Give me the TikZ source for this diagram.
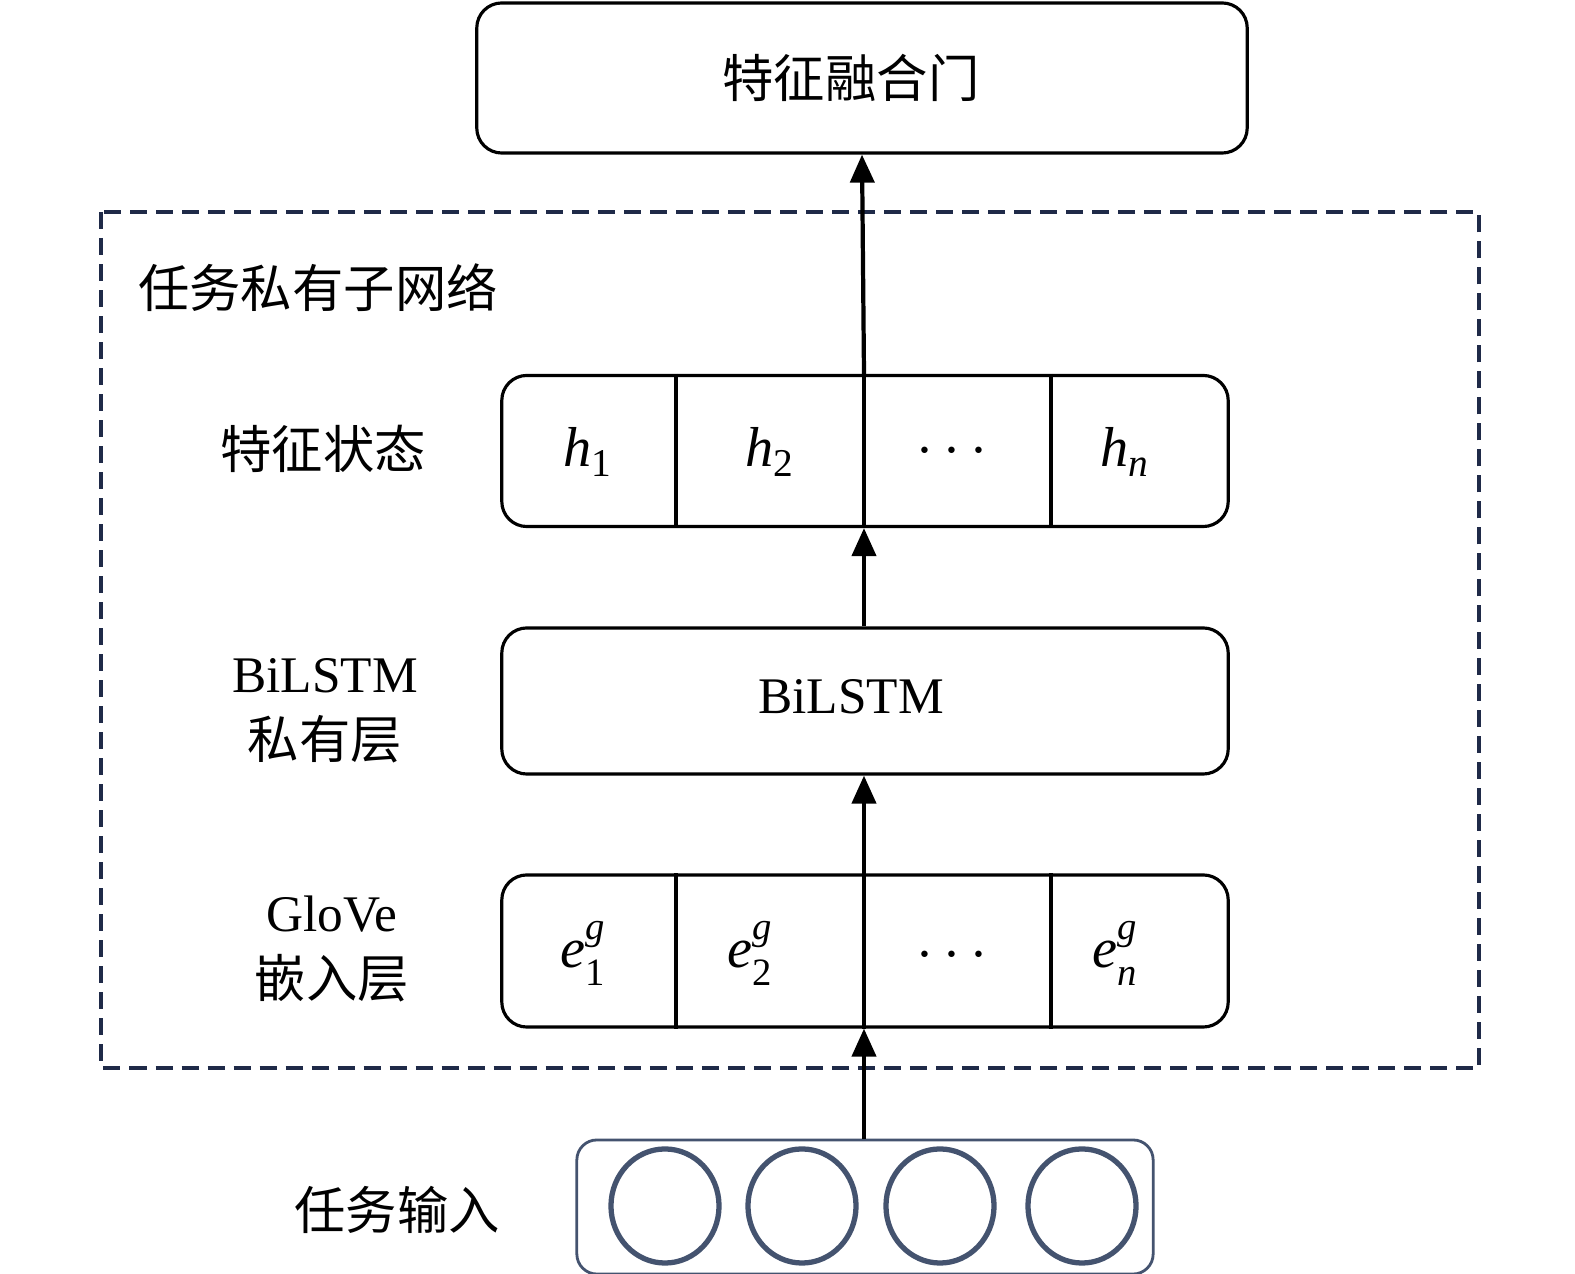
\documentclass[tikz,border=0pt]{standalone}
\usepackage{fontspec}
\setmainfont{Liberation Serif}
\newfontfamily\cjk{Noto Sans CJK SC}
\usetikzlibrary{arrows.meta,positioning}

\definecolor{framecol}{HTML}{1F2A48}
\definecolor{inpcol}{HTML}{44536F}

% embedding symbol e^g_i
\newcommand{\embsym}[1]{\textit{e}\rlap{\raisebox{0.5em}{\fontsize{11}{11}\selectfont\textit{g}}}\raisebox{-0.32em}{\fontsize{11}{11}\selectfont #1}}

\tikzset{
  layer/.style={draw, line width=0.9pt, rounded corners=0.25cm,
    minimum width=7.26cm, inner sep=0pt},
  txt/.style={font=\fontsize{14.6}{18.6}\selectfont, align=center, inner sep=0pt},
  cell/.style={font=\fontsize{16}{18}\selectfont, inner sep=0pt},
  arr/.style={-{Triangle[width=0.24cm,length=0.28cm]}, line width=1.2pt},
}

\begin{document}
\begin{tikzpicture}[x=0.01cm, y=-0.01cm]
  \useasboundingbox (0,0) rectangle (1575,1274);

  % private sub-network frame
  \draw[framecol, line width=0.9pt, dash pattern=on 0.17cm off 0.09cm]
    (101,212) rectangle (1479,1068);
  \node[txt, font=\fontsize{14.6}{18}\selectfont\cjk] (title) at (318,288) {任务私有子网络};

  % layers
  \node[layer, minimum width=7.7cm, minimum height=1.5cm] (gate) at (862,78) {};
  \node[txt, font=\fontsize{14.6}{18}\selectfont\cjk] (gatetxt) at (851,78) {特征融合门};

  \node[layer, minimum height=1.51cm] (hrow) at (865,451) {};
  \node[layer, minimum height=1.46cm] (bilstm) at (865,701) {};
  \node[txt] (bilstmtxt) at (851,697) {BiLSTM};
  \node[layer, minimum height=1.52cm] (erow) at (865,951) {};

  \node[draw=inpcol, line width=0.8pt, rounded corners=0.2cm,
    minimum width=5.76cm, minimum height=1.34cm, inner sep=0pt] (inp) at (865,1207) {};
  \foreach \cx in {665,802,940,1082}
    \draw[inpcol, line width=1.5pt] (\cx,1206) ellipse [x radius=0.54cm, y radius=0.57cm];

  % cell dividers
  \foreach \dx in {676,864,1051} {
    \draw[line width=0.9pt] (hrow.north -| \dx,0) -- (hrow.south -| \dx,0);
    \draw[line width=0.9pt] (erow.north -| \dx,0) -- (erow.south -| \dx,0);
  }

  % cell contents
  \node[cell] (h1) at (588,452) {\textit{h}\textsubscript{1}};
  \node[cell] (h2) at (770,452) {\textit{h}\textsubscript{2}};
  \node[cell] (hd) at (952,452) {$\cdots$};
  \node[cell] (hn) at (1125,452) {\textit{h}\textsubscript{\textit{n}}};

  \node[cell] (e1) at (583,953) {\embsym{1}};
  \node[cell] (e2) at (750,953) {\embsym{2}};
  \node[cell] (ed) at (952,956) {$\cdots$};
  \node[cell] (en) at (1115,953) {\embsym{\textit{n}}};

  % row labels
  \node[txt, font=\fontsize{14.6}{18}\selectfont\cjk] (hlbl) at (323,449) {特征状态};
  \node[txt] (blbl) at (325,711) {BiLSTM\\{\cjk 私有层}};
  \node[txt] (glbl) at (332,949) {GloVe\\{\cjk 嵌入层}};
  \node[txt, font=\fontsize{14.6}{18}\selectfont\cjk] (ilbl) at (397,1210) {任务输入};

  % data flow
  \draw[arr] (inp.north -| 864,0) -- (erow.south -| 864,0);
  \draw[arr] (erow.north -| 864,0) -- (bilstm.south -| 864,0);
  \draw[arr] (bilstm.north -| 864,0) -- (hrow.south -| 864,0);
  \draw[arr] (hrow.north -| 864,0) -- (gate.south -| 862,0);
\end{tikzpicture}
\end{document}
